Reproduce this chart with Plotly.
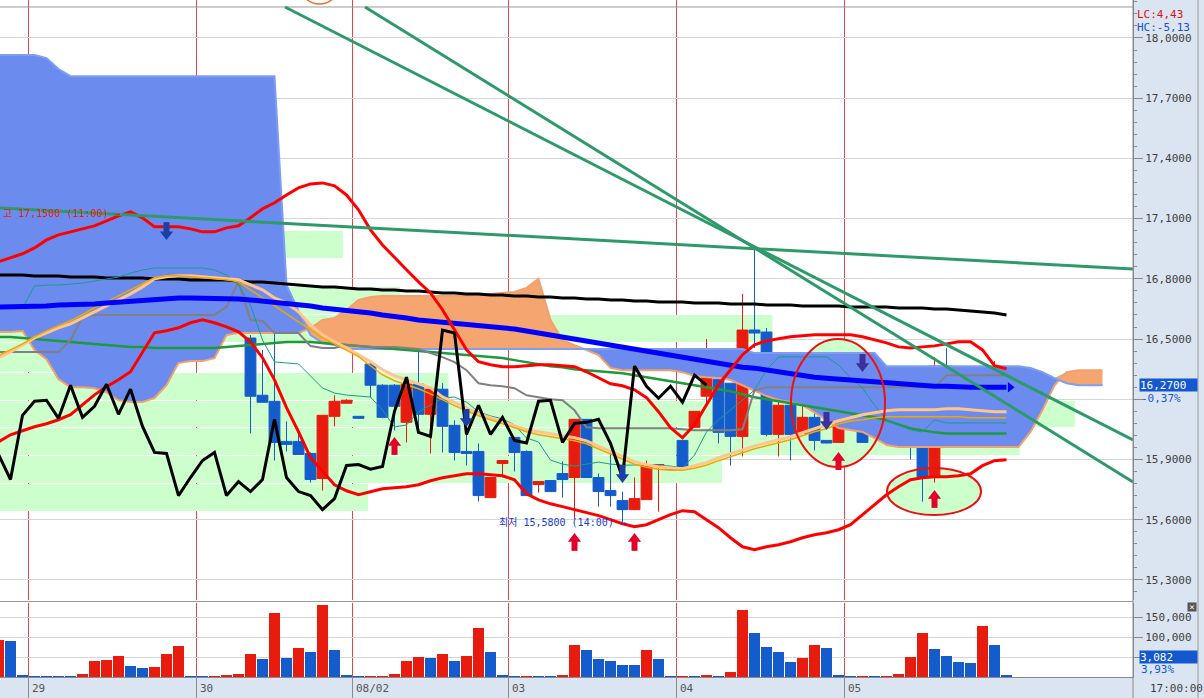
import plotly.graph_objects as go

# bar index (one bar per hour), -1 is the half-cut bar at the left edge
bars = list(range(-1, 84))

opens = [16.765, 16.755, 16.955, 17.085, 16.680, 16.910, 16.915, 16.875, 16.770, 16.965,
         16.920, 17.038, 17.055, 16.890, 16.875, 16.575, 16.595, 16.595, 16.815, 16.565,
         16.645, 16.505, 16.220, 16.190, 15.990, 15.990, 15.930, 15.805, 16.115, 16.180,
         16.115, 16.375, 16.270, 16.270, 16.085, 16.275, 16.125, 16.250, 16.070, 15.940,
         15.940, 15.710, 15.880, 16.010, 15.940, 15.775, 15.795, 15.830, 15.810, 16.100,
         15.810, 15.745, 15.695, 15.650, 15.700, 15.865, 15.865, 15.995, 16.060, 16.215,
         16.300, 16.280, 16.015, 16.545, 16.535, 16.025, 16.170, 16.030, 16.110, 15.995,
         15.985, 16.185, 16.190, 16.060, 16.080, 16.035, 16.190, 15.980, 15.810, 16.365,
         16.265, 16.185, 16.265, 16.200, 16.300]
highs = [16.775, 16.995, 16.955, 17.085, 16.835, 16.975, 16.915, 16.975, 17.025, 17.015,
         17.150, 17.095, 17.060, 16.905, 16.955, 16.820, 16.600, 16.845, 16.815, 16.565,
         16.795, 16.520, 16.445, 16.700, 16.090, 16.050, 15.935, 16.120, 16.220, 16.200,
         16.115, 16.385, 16.275, 16.275, 16.310, 16.525, 16.250, 16.280, 16.095, 16.060,
         15.980, 15.810, 15.895, 16.010, 15.945, 15.790, 15.795, 15.890, 16.100, 16.100,
         15.830, 15.945, 15.740, 15.810, 15.895, 15.875, 15.865, 15.995, 16.140, 16.500,
         16.300, 16.280, 16.725, 16.965, 16.555, 16.290, 16.170, 16.280, 16.160, 15.995,
         16.205, 16.195, 16.285, 16.100, 16.085, 16.240, 16.190, 15.980, 16.410, 16.455,
         16.330, 16.360, 16.265, 16.390, 16.300]
lows = [16.745, 16.755, 16.750, 16.445, 16.545, 16.905, 16.790, 16.635, 16.635, 16.700,
        16.905, 16.900, 16.870, 16.710, 16.555, 16.575, 16.590, 16.595, 16.560, 16.540,
        16.540, 16.030, 16.185, 15.895, 15.940, 15.925, 15.785, 15.745, 16.065, 16.180,
        16.105, 16.210, 16.105, 16.045, 15.985, 16.045, 15.930, 15.935, 15.895, 15.870,
        15.690, 15.710, 15.810, 15.840, 15.720, 15.735, 15.740, 15.710, 15.600, 15.810,
        15.665, 15.665, 15.580, 15.650, 15.700, 15.640, 15.850, 15.865, 16.060, 16.180,
        15.980, 15.870, 15.915, 16.455, 16.015, 15.915, 15.895, 16.030, 15.945, 15.980,
        15.985, 16.185, 15.985, 16.060, 16.075, 16.035, 15.900, 15.690, 15.785, 16.215,
        16.205, 16.185, 16.065, 16.200, 16.265]
closes = [16.750, 16.975, 16.760, 16.675, 16.835, 16.925, 16.820, 16.660, 16.965, 16.920,
          17.015, 17.055, 16.885, 16.870, 16.575, 16.595, 16.600, 16.845, 16.560, 16.540,
          16.540, 16.215, 16.185, 15.985, 15.975, 15.925, 15.800, 16.120, 16.190, 16.195,
          16.105, 16.270, 16.110, 16.165, 16.275, 16.125, 16.250, 16.065, 15.935, 15.930,
          15.720, 15.810, 15.895, 15.935, 15.720, 15.790, 15.740, 15.800, 16.100, 15.810,
          15.740, 15.720, 15.650, 15.705, 15.870, 15.875, 15.852, 15.865, 16.140, 16.310,
          16.035, 16.015, 16.545, 16.530, 16.025, 16.170, 16.025, 16.110, 15.995, 15.982,
          16.190, 16.195, 15.985, 16.080, 16.085, 16.100, 15.980, 15.810, 16.365, 16.265,
          16.205, 16.265, 16.185, 16.320, 16.270]

volumes = [92500, 90000, 5000, 2500, 2500, 2500, 2500, 7500, 40000, 42500,
           52500, 27500, 22500, 25000, 57500, 77500, 2500, 2500, 2500, 5000,
           7500, 57500, 45000, 160000, 47500, 72500, 62500, 180000, 67500, 5000,
           2500, 2500, 2500, 7500, 40000, 50000, 47500, 57500, 40000, 52500,
           122500, 62500, 5000, 2500, 2500, 2500, 2500, 5000, 80000, 67500,
           45000, 40000, 30000, 30000, 67500, 45000, 2500, 2500, 2500, 5000,
           2500, 12500, 167500, 110000, 75000, 62500, 37500, 47500, 80000, 72500,
           5000, 2500, 2500, 2500, 2500, 7500, 50000, 110000, 70000, 52500,
           37500, 35000, 127500, 80000, 3082]
vol_up = [1, 0, 0, 0, 0, 0, 0, 1, 1, 1,
          1, 0, 0, 1, 1, 1, 0, 0, 1, 1,
          1, 1, 0, 1, 0, 1, 0, 1, 0, 0,
          0, 1, 1, 1, 1, 1, 0, 1, 0, 1,
          1, 0, 0, 0, 1, 0, 0, 1, 1, 0,
          0, 0, 0, 0, 1, 0, 0, 1, 0, 1,
          0, 1, 1, 0, 0, 0, 0, 1, 1, 0,
          0, 0, 1, 0, 1, 1, 1, 1, 0, 0,
          0, 0, 1, 0, 0]

day_first_bar = [2, 16, 29, 42, 56, 70]
day_labels = ['29', '30', '08/02', '03', '04', '05']

ma_black = [16.819, 16.819, 16.819, 16.814, 16.814, 16.814, 16.809, 16.809, 16.809, 16.804,
            16.804, 16.804, 16.804, 16.799, 16.799, 16.799, 16.794, 16.794, 16.794, 16.794,
            16.789, 16.784, 16.784, 16.779, 16.774, 16.769, 16.764, 16.759, 16.759, 16.754,
            16.749, 16.749, 16.744, 16.744, 16.739, 16.739, 16.734, 16.729, 16.729, 16.724,
            16.724, 16.719, 16.719, 16.714, 16.714, 16.710, 16.710, 16.705, 16.705, 16.700,
            16.700, 16.695, 16.695, 16.690, 16.690, 16.685, 16.685, 16.685, 16.680, 16.680,
            16.680, 16.675, 16.675, 16.675, 16.670, 16.670, 16.670, 16.665, 16.665, 16.665,
            16.665, 16.660, 16.660, 16.660, 16.660, 16.655, 16.655, 16.655, 16.650, 16.650,
            16.645, 16.640, 16.635, 16.630, 16.620]
ma_blue = [16.660, 16.660, 16.660, 16.665, 16.665, 16.670, 16.670, 16.670, 16.675, 16.680,
           16.685, 16.690, 16.695, 16.700, 16.705, 16.705, 16.705, 16.705, 16.705, 16.700,
           16.700, 16.695, 16.690, 16.685, 16.680, 16.670, 16.665, 16.655, 16.650, 16.640,
           16.635, 16.630, 16.620, 16.615, 16.605, 16.595, 16.590, 16.585, 16.580, 16.570,
           16.565, 16.560, 16.555, 16.550, 16.540, 16.530, 16.520, 16.510, 16.500, 16.485,
           16.475, 16.465, 16.455, 16.445, 16.435, 16.425, 16.415, 16.405, 16.395, 16.385,
           16.375, 16.365, 16.360, 16.355, 16.345, 16.335, 16.325, 16.320, 16.310, 16.305,
           16.300, 16.295, 16.290, 16.285, 16.280, 16.275, 16.270, 16.270, 16.265, 16.265,
           16.260, 16.260, 16.260, 16.260, 16.260]
ma_green = [16.510, 16.510, 16.505, 16.500, 16.495, 16.490, 16.485, 16.480, 16.475, 16.470,
            16.465, 16.460, 16.460, 16.455, 16.455, 16.455, 16.455, 16.455, 16.455, 16.460,
            16.465, 16.470, 16.475, 16.480, 16.485, 16.485, 16.485, 16.480, 16.475, 16.470,
            16.465, 16.460, 16.455, 16.450, 16.445, 16.440, 16.435, 16.430, 16.425, 16.420,
            16.415, 16.410, 16.405, 16.395, 16.385, 16.375, 16.365, 16.360, 16.350, 16.345,
            16.340, 16.335, 16.330, 16.320, 16.310, 16.300, 16.290, 16.280, 16.270, 16.260,
            16.250, 16.240, 16.225, 16.210, 16.200, 16.190, 16.180, 16.170, 16.160, 16.150,
            16.140, 16.130, 16.120, 16.110, 16.095, 16.075, 16.055, 16.045, 16.035, 16.030,
            16.030, 16.030, 16.030, 16.030, 16.030]
base_line = [16.435, 16.435, 16.435, 16.435, 16.435, 16.435, 16.495, 16.610, 16.620, 16.620,
             16.620, 16.620, 16.620, 16.620, 16.620, 16.620, 16.620, 16.620, 16.620, 16.660,
             16.785, 16.595, 16.590, 16.530, 16.530, 16.530, 16.465, 16.455, 16.455, 16.470,
             16.465, 16.460, 16.460, 16.460, 16.455, 16.450, 16.430, 16.410, 16.385, 16.345,
             16.280, 16.270, 16.265, 16.255, 16.220, 16.210, 16.200, 16.195, 16.145, 16.060,
             16.055, 16.055, 16.055, 16.055, 16.055, 16.055, 16.055, 16.050, 16.045, 16.045,
             16.045, 16.045, 16.050, 16.245, 16.260, 16.260, 16.260, 16.260, 16.260, 16.260,
             16.260, 16.260, 16.260, 16.260, 16.260, 16.260, 16.260, 16.260, 16.260, 16.320,
             16.320, 16.320, 16.320, 16.320, 16.320]
conv_line = [16.655, 16.655, 16.655, 16.764, 16.769, 16.769, 16.774, 16.779, 16.789, 16.799,
             16.809, 16.829, 16.844, 16.854, 16.854, 16.854, 16.854, 16.854, 16.844, 16.819,
             16.769, 16.670, 16.495, 16.386, 16.381, 16.376, 16.316, 16.256, 16.231, 16.221,
             16.216, 16.211, 16.146, 16.062, 16.072, 16.137, 16.171, 16.206, 16.211, 16.186,
             16.137, 16.117, 16.102, 16.072, 16.007, 15.987, 15.897, 15.877, 15.867, 15.877,
             15.887, 15.877, 15.872, 15.872, 15.872, 15.872, 15.867, 15.857, 15.922, 16.037,
             16.097, 16.146, 16.196, 16.246, 16.346, 16.411, 16.411, 16.411, 16.411, 16.411,
             16.371, 16.306, 16.256, 16.171, 16.097, 16.072, 16.047, 16.037, 16.097, 16.082,
             16.082, 16.082, 16.082, 16.082, 16.082]
ma_fast = [16.417, 16.446, 16.476, 16.511, 16.541, 16.566, 16.591, 16.621, 16.656, 16.685,
           16.715, 16.745, 16.775, 16.805, 16.815, 16.815, 16.810, 16.805, 16.800, 16.795,
           16.785, 16.745, 16.705, 16.666, 16.626, 16.586, 16.546, 16.506, 16.476, 16.446,
           16.412, 16.367, 16.322, 16.292, 16.272, 16.252, 16.227, 16.197, 16.168, 16.143,
           16.118, 16.098, 16.078, 16.058, 16.038, 16.023, 16.013, 16.003, 15.993, 15.978,
           15.953, 15.928, 15.903, 15.876, 15.861, 15.851, 15.846, 15.846, 15.856, 15.871,
           15.894, 15.914, 15.934, 15.953, 15.968, 15.983, 15.998, 16.018, 16.038, 16.053,
           16.077, 16.092, 16.098, 16.108, 16.113, 16.113, 16.113, 16.113, 16.113, 16.113,
           16.113, 16.108, 16.108, 16.108, 16.108]
ma_fast2 = [16.407, 16.436, 16.471, 16.506, 16.531, 16.556, 16.576, 16.606, 16.636, 16.666,
            16.695, 16.725, 16.760, 16.800, 16.810, 16.815, 16.815, 16.810, 16.805, 16.800,
            16.795, 16.770, 16.745, 16.705, 16.680, 16.636, 16.571, 16.521, 16.486, 16.456,
            16.422, 16.387, 16.347, 16.317, 16.297, 16.277, 16.257, 16.212, 16.183, 16.153,
            16.128, 16.108, 16.088, 16.068, 16.048, 16.038, 16.028, 16.018, 16.008, 15.993,
            15.968, 15.943, 15.918, 15.889, 15.874, 15.864, 15.859, 15.854, 15.869, 15.884,
            15.909, 15.928, 15.948, 15.968, 15.983, 15.998, 16.013, 16.033, 16.053, 16.073,
            16.093, 16.108, 16.123, 16.133, 16.143, 16.148, 16.148, 16.148, 16.148, 16.153,
            16.153, 16.148, 16.143, 16.138, 16.138]
bb_upper = [16.885, 16.905, 16.925, 16.954, 16.994, 17.019, 17.034, 17.049, 17.064, 17.089,
            17.114, 17.134, 17.104, 17.059, 17.059, 17.059, 17.049, 17.034, 17.034, 17.054,
            17.064, 17.104, 17.149, 17.179, 17.218, 17.253, 17.273, 17.278, 17.263, 17.218,
            17.144, 17.044, 16.969, 16.905, 16.845, 16.785, 16.730, 16.646, 16.546, 16.446,
            16.387, 16.372, 16.362, 16.362, 16.367, 16.372, 16.372, 16.367, 16.362, 16.337,
            16.307, 16.277, 16.267, 16.247, 16.208, 16.138, 16.058, 16.008, 16.073, 16.173,
            16.272, 16.347, 16.422, 16.471, 16.491, 16.501, 16.511, 16.516, 16.521, 16.521,
            16.521, 16.521, 16.511, 16.496, 16.481, 16.461, 16.456, 16.461, 16.466, 16.476,
            16.486, 16.486, 16.446, 16.367, 16.352]
bb_lower = [15.988, 16.023, 16.043, 16.063, 16.078, 16.098, 16.123, 16.173, 16.222, 16.262,
            16.297, 16.337, 16.436, 16.531, 16.541, 16.556, 16.581, 16.596, 16.581, 16.561,
            16.536, 16.486, 16.407, 16.297, 16.158, 16.038, 15.909, 15.839, 15.774, 15.744,
            15.724, 15.739, 15.754, 15.759, 15.764, 15.774, 15.794, 15.809, 15.819, 15.829,
            15.829, 15.824, 15.819, 15.799, 15.729, 15.699, 15.679, 15.665, 15.650, 15.635,
            15.620, 15.600, 15.580, 15.565, 15.575, 15.600, 15.625, 15.645, 15.640, 15.600,
            15.560, 15.510, 15.465, 15.450, 15.465, 15.475, 15.490, 15.510, 15.525, 15.535,
            15.550, 15.575, 15.625, 15.675, 15.724, 15.764, 15.799, 15.809, 15.814, 15.814,
            15.819, 15.829, 15.869, 15.894, 15.899]

# ichimoku cloud, runs ahead of the last bar
cloud_bars = list(range(-1, 92))
span_a = [17.915, 17.915, 17.915, 17.915, 17.900, 17.845, 17.810, 17.810, 17.810, 17.810,
          17.810, 17.810, 17.810, 17.810, 17.810, 17.810, 17.810, 17.810, 17.810, 17.810,
          17.810, 17.810, 17.810, 17.810, 16.770, 16.640, 16.520, 16.480, 16.470, 16.450,
          16.450, 16.450, 16.450, 16.450, 16.450, 16.450, 16.450, 16.450, 16.450, 16.450,
          16.450, 16.450, 16.450, 16.450, 16.450, 16.450, 16.450, 16.450, 16.450, 16.450,
          16.450, 16.450, 16.450, 16.450, 16.450, 16.450, 16.450, 16.450, 16.450, 16.450,
          16.450, 16.450, 16.450, 16.430, 16.430, 16.430, 16.430, 16.430, 16.430, 16.430,
          16.430, 16.430, 16.430, 16.430, 16.365, 16.365, 16.365, 16.365, 16.365, 16.365,
          16.365, 16.365, 16.365, 16.365, 16.365, 16.365, 16.356, 16.335, 16.305, 16.280,
          16.270, 16.270, 16.270]
span_b = [16.535, 16.535, 16.540, 16.445, 16.400, 16.300, 16.260, 16.260, 16.255, 16.235,
          16.195, 16.186, 16.186, 16.206, 16.270, 16.380, 16.390, 16.390, 16.405, 16.520,
          16.530, 16.530, 16.530, 16.530, 16.530, 16.530, 16.555, 16.595, 16.605, 16.645,
          16.695, 16.710, 16.715, 16.715, 16.715, 16.715, 16.715, 16.715, 16.715, 16.715,
          16.720, 16.725, 16.730, 16.735, 16.755, 16.800, 16.595, 16.495, 16.470, 16.445,
          16.420, 16.356, 16.345, 16.345, 16.345, 16.345, 16.345, 16.335, 16.316, 16.310,
          16.306, 16.296, 16.270, 16.246, 16.216, 16.196, 16.186, 16.171, 16.136, 16.097,
          16.057, 16.047, 16.037, 16.007, 15.972, 15.962, 15.962, 15.962, 15.962, 15.962,
          15.962, 15.962, 15.962, 15.962, 15.962, 15.962, 16.037, 16.146, 16.270, 16.335,
          16.345, 16.345, 16.345]

# volume-by-price bands drawn from the left edge
profile_low = [16.904, 16.764, 16.625, 16.485, 16.336, 16.196, 16.062, 15.922, 15.783, 15.643]
profile_high = [17.043, 16.904, 16.764, 16.625, 16.485, 16.336, 16.196, 16.062, 15.922, 15.783]
profile_end = [27.7, 19.0, 32.5, 63.5, 10.8, 36.5, 88.7, 84.1, 59.3, 29.8]

up_arrow_bar = [32, 47, 52, 69, 77]
up_arrow_price = [15.972, 15.494, 15.494, 15.897, 15.708]
down_arrow_bar = [13, 38, 51]
down_arrow_price = [17.033, 16.102, 15.823]
down2_arrow_bar = [68, 71]
down2_arrow_price = [16.087, 16.376]

trend_x0 = [-0.875, 22.875, 29.54]
trend_y0 = [17.153, 18.1545, 18.1545]
trend_x1 = [93.54, 93.54, 93.54]
trend_y1 = [16.849, 15.997, 15.788]

ellipse_x0 = [65.04, 73.04]
ellipse_x1 = [72.875, 80.875]
ellipse_y0 = [15.862, 15.623]
ellipse_y1 = [16.50, 15.857]

price_ticks = [15.3, 15.6, 15.9, 16.2, 16.5, 16.8, 17.1, 17.4, 17.7, 18.0]
price_tick_text = ['15,3000', '15,6000', '15,9000', '', '16,5000', '16,8000',
                   '17,1000', '17,4000', '17,7000', '18,0000']
vol_ticks = [50000, 100000, 150000]
vol_tick_text = ['', '100,000', '150,000']

RED = '#e81c0e'
BLUE = '#145ccc'
PANEL = '#dbe5f1'
MONO = 'DejaVu Sans Mono'
KR = 'DejaVu Sans Mono, Noto Sans CJK KR'

fig = go.Figure()

def line(x, y, color, width, **kw):
    fig.add_trace(go.Scatter(x=x, y=y, mode='lines', line=dict(color=color, width=width),
                             hoverinfo='skip', showlegend=False, **kw))

cloud_top = [max(a, b) for a, b in zip(span_a, span_b)]
line(cloud_bars, span_b, 'rgba(0,0,0,0)', 0)
line(cloud_bars, cloud_top, 'rgba(0,0,0,0)', 0, fill='tonexty', fillcolor='#6b8cee')
line(cloud_bars, span_a, 'rgba(0,0,0,0)', 0)
line(cloud_bars, cloud_top, 'rgba(0,0,0,0)', 0, fill='tonexty', fillcolor='#f5a670')
line(cloud_bars, span_b, '#f4a06c', 2)
line(cloud_bars, span_a, '#7d9ef2', 2)

line(bars, ma_black, '#000000', 3)
line(bars, ma_green, '#1e9a3c', 2.5)
line(bars, base_line, '#808080', 2)
line(bars, conv_line, '#1a9a8c', 1)
line(bars, ma_fast2, '#ffc58c', 3)
line(bars, ma_fast, '#eea800', 1.5)
line(bars, ma_blue, '#0000ff', 5)
fig.add_trace(go.Scatter(x=[bars[-1] + 0.3], y=[ma_blue[-1]], mode='markers',
                         marker=dict(symbol='triangle-right', size=9, color='#0000ff'),
                         hoverinfo='skip', showlegend=False))

fig.add_trace(go.Candlestick(
    x=bars, open=opens, high=highs, low=lows, close=closes,
    increasing=dict(line=dict(color=RED, width=1), fillcolor=RED),
    decreasing=dict(line=dict(color=BLUE, width=1), fillcolor=BLUE),
    whiskerwidth=0, hoverinfo='skip', showlegend=False))

line(bars, bb_upper, '#ff0000', 3)
line(bars, bb_lower, '#ff0000', 3)

# lagging span: close plotted 25 bars back
lag = 25
line([b - lag for b in bars[lag:]], closes[lag:], '#000000', 3)

def arrows(ks, ps, color, up):
    s = 1 if up else -1
    fig.add_trace(go.Scatter(x=ks, y=[p - s * 0.0214 for p in ps], mode='markers',
                             marker=dict(symbol='line-ns', size=8, line=dict(color=color, width=6)),
                             hoverinfo='skip', showlegend=False))
    fig.add_trace(go.Scatter(x=ks, y=[p + s * 0.011 for p in ps], mode='markers',
                             marker=dict(symbol='triangle-up' if up else 'triangle-down',
                                         size=11.5, color=color, line=dict(width=0)),
                             hoverinfo='skip', showlegend=False))

arrows(up_arrow_bar, up_arrow_price, '#e2002c', True)
arrows(down_arrow_bar, down_arrow_price, '#1c3ea6', False)
arrows(down2_arrow_bar, down2_arrow_price, '#3e2f9e', False)

fig.add_trace(go.Bar(x=bars, y=volumes, yaxis='y2',
                     marker=dict(color=[RED if u else BLUE for u in vol_up], line=dict(width=0)),
                     hoverinfo='skip', showlegend=False))

shapes = []
for lo, hi, end in zip(profile_low, profile_high, profile_end):
    shapes.append(dict(type='rect', xref='x', yref='y', x0=bars[0] - 1, x1=end,
                       y0=lo, y1=hi - 0.005, fillcolor='#ccffcc', line=dict(width=0), layer='between'))
for x0, x1, y0, y1 in zip(ellipse_x0, ellipse_x1, ellipse_y0, ellipse_y1):
    shapes.append(dict(type='circle', xref='x', yref='y', x0=x0, x1=x1, y0=y0, y1=y1,
                       fillcolor='#ccffcc', line=dict(width=0), layer='between'))
for b in day_first_bar:
    shapes.append(dict(type='line', xref='x', yref='paper', x0=b - 0.5, x1=b - 0.5, y0=0, y1=1,
                       line=dict(color='#e04848', width=1), layer='between'))
    shapes.append(dict(type='line', xref='x', yref='paper', x0=b - 0.5, x1=b - 0.5, y0=-0.032, y1=0,
                       line=dict(color='#8a8a8a', width=1)))
shapes.append(dict(type='line', xref='paper', yref='y', x0=0, x1=1, y0=18.1545, y1=18.1545,
                   line=dict(color='#9a9a9a', width=1), layer='between'))
for x0, y0, x1, y1 in zip(trend_x0, trend_y0, trend_x1, trend_y1):
    shapes.append(dict(type='line', xref='x', yref='y', x0=x0, y0=y0, x1=x1, y1=y1,
                       line=dict(color='#2e9a6a', width=3)))
for x0, x1, y0, y1 in zip(ellipse_x0, ellipse_x1, ellipse_y0, ellipse_y1):
    shapes.append(dict(type='circle', xref='x', yref='y', x0=x0, x1=x1, y0=y0, y1=y1,
                       line=dict(color='#ee1010', width=2)))
shapes.append(dict(type='circle', xref='x', yref='y', x0=24.2, x1=27.3, y0=18.169, y1=18.34,
                   line=dict(color='#f07020', width=1.5)))
# panel frames
shapes.append(dict(type='rect', xref='paper', yref='paper', x0=0, x1=1, y0=74 / 677, y1=77 / 677,
                   fillcolor='white', line=dict(width=0), layer='below'))
shapes.append(dict(type='line', xref='paper', yref='paper', x0=0, x1=1, y0=75.5 / 677, y1=75.5 / 677,
                   line=dict(color='#9a9a9a', width=1)))
shapes.append(dict(type='line', xref='paper', yref='paper', x0=1, x1=1, y0=-0.032, y1=1,
                   line=dict(color='#8a8a8a', width=1)))
shapes.append(dict(type='line', xref='paper', yref='paper', x0=1198 / 1133, x1=1198 / 1133,
                   y0=-0.032, y1=1, line=dict(color='#9a9a9a', width=1)))

ann = []
for b, t in zip(day_first_bar, day_labels):
    ann.append(dict(x=b - 0.5, y=-11 / 677, xref='x', yref='paper', text=t, showarrow=False,
                    xanchor='left', yanchor='middle', xshift=1,
                    font=dict(family=MONO, size=11, color='#555555')))
ann.append(dict(x=0.001, y=17.128, xref='paper', yref='y', text='고 17,1500 (11:00) →', showarrow=False,
                xanchor='left', yanchor='middle', font=dict(family=KR, size=10, color=RED)))
ann.append(dict(x=51.46, y=15.588, xref='x', yref='y', text='최저 15,5800 (14:00) →', showarrow=False,
                xanchor='right', yanchor='middle', font=dict(family=KR, size=10, color='#1a3ad8')))
ann.append(dict(x=1135 / 1133, y=(677 - 14) / 677, xref='paper', yref='paper', text='LC:4,43',
                showarrow=False, xanchor='left', yanchor='middle',
                font=dict(family=MONO, size=11, color='#e01010')))
ann.append(dict(x=1135 / 1133, y=(677 - 27) / 677, xref='paper', yref='paper', text='HC:-5,13',
                showarrow=False, xanchor='left', yanchor='middle',
                font=dict(family=MONO, size=11, color='#1a4fd0')))
ann.append(dict(x=1139 / 1133, y=closes[-1], xref='paper', yref='y', text='16,2700', showarrow=False,
                xanchor='left', yanchor='middle', bgcolor='#1458d0', width=57, height=12, align='left',
                borderpad=0, font=dict(family=MONO, size=11, color='white')))
ann.append(dict(x=1139 / 1133, y=16.206, xref='paper', yref='y', text='-0,37%', showarrow=False,
                xanchor='left', yanchor='middle', font=dict(family=MONO, size=11, color='#1458d0')))
ann.append(dict(x=1139 / 1133, y=50000, xref='paper', yref='y2', text='3,082', showarrow=False,
                xanchor='left', yanchor='middle', bgcolor='#1458d0', width=57, height=12, align='left',
                borderpad=0, font=dict(family=MONO, size=11, color='white')))
ann.append(dict(x=1139 / 1133, y=20000, xref='paper', yref='y2', text='3,93%', showarrow=False,
                xanchor='left', yanchor='middle', font=dict(family=MONO, size=11, color='#1458d0')))
ann.append(dict(x=1148 / 1133, y=-11 / 677, xref='paper', yref='paper', text='17:00:00', showarrow=False,
                xanchor='left', yanchor='middle', font=dict(family=MONO, size=11, color='#404040')))
ann.append(dict(x=1192 / 1133, y=70 / 677, xref='paper', yref='paper', text='×', showarrow=False,
                xanchor='center', yanchor='middle', bgcolor='#555555', width=8, height=8, borderpad=0,
                font=dict(family=MONO, size=9, color='white')))

axis_font = dict(family=MONO, size=11, color='#404040')
fig.update_layout(
    width=1204, height=698,
    margin=dict(l=0, r=71, t=0, b=21, pad=0),
    paper_bgcolor=PANEL, plot_bgcolor='white',
    showlegend=False, bargap=0.08, boxgap=0.05, boxgroupgap=0.05,
    hovermode=False,
    xaxis=dict(range=[-0.875, 93.542], showticklabels=False, ticks='', showgrid=False,
               zeroline=False, showline=True, linecolor='#8a8a8a', anchor='y2',
               rangeslider=dict(visible=False), fixedrange=True),
    yaxis=dict(domain=[77 / 677, 1], range=[15.1998, 18.1893], side='right', anchor='x',
               tickmode='array', tickvals=price_ticks, ticktext=price_tick_text,
               ticks='outside', ticklen=9, tickcolor='#8a8a8a', tickfont=axis_font,
               showgrid=True, gridcolor='#d6d6d6', gridwidth=1, zeroline=False,
               showline=True, linecolor='#8a8a8a',
               minor=dict(ticks='outside', ticklen=3, tickcolor='#8a8a8a', tickmode='linear',
                          tick0=15.3, dtick=0.06, showgrid=False)),
    yaxis2=dict(domain=[0, 74 / 677], range=[0, 185000], side='right', anchor='x',
                tickmode='array', tickvals=vol_ticks, ticktext=vol_tick_text,
                ticks='outside', ticklen=9, tickcolor='#8a8a8a', tickfont=axis_font,
                showgrid=True, gridcolor='#d6d6d6', zeroline=False,
                showline=True, linecolor='#8a8a8a'),
    shapes=shapes, annotations=ann,
)

fig.write_html("out.html", config={'displayModeBar': False},
               post_script="document.body.style.margin='0px';")
